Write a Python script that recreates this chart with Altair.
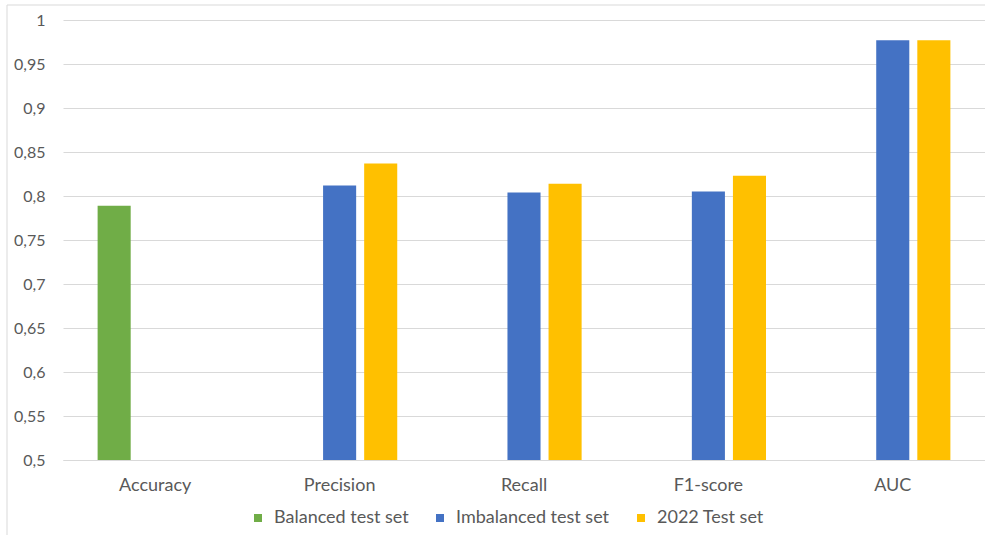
import altair as alt
import pandas as pd

# Scores per metric for each evaluation set (None = not reported)
metrics = ["Accuracy", "Precision", "Recall", "F1-score", "AUC"]
series = ["Balanced test set", "Imbalanced test set", "2022 Test set"]
balanced = [0.789, None, None, None, None]
imbalanced = [None, 0.812, 0.804, 0.805, 0.977]
test_2022 = [None, 0.837, 0.814, 0.823, 0.977]
colors = ["#70AD47", "#4472C4", "#FFC000"]
y_ticks = [0.5, 0.55, 0.6, 0.65, 0.7, 0.75, 0.8, 0.85, 0.9, 0.95, 1.0]

rows = []
for name, vals in zip(series, [balanced, imbalanced, test_2022]):
    for m, v in zip(metrics, vals):
        if v is not None:
            rows.append({"metric": m, "set": name, "score": v})
df = pd.DataFrame(rows)

FONT = "Lato"
LABEL_COLOR = "#595959"
GRID = "#D9D9D9"

bars = alt.Chart(df).mark_bar().encode(
    x=alt.X(
        "metric:N",
        sort=metrics,
        scale=alt.Scale(paddingInner=0.3315, paddingOuter=0.166),
        axis=alt.Axis(
            title=None, labelAngle=0, ticks=False, domain=True,
            domainColor=GRID, labelPadding=16, labelFontSize=18,
            labelColor=LABEL_COLOR, labelFont=FONT, grid=False,
        ),
    ),
    xOffset=alt.XOffset(
        "set:N",
        sort=series,
        scale=alt.Scale(domain=series, paddingInner=0.195, paddingOuter=0.0975),
    ),
    y=alt.Y(
        "score:Q",
        scale=alt.Scale(domain=[0.5, 1.0], zero=False, nice=False),
        axis=alt.Axis(
            title=None, values=y_ticks, ticks=False, domain=False,
            grid=True, gridColor=GRID, gridWidth=1,
            labelPadding=18, labelFontSize=16, labelColor=LABEL_COLOR,
            labelFont=FONT,
            labelExpr="replace(format(datum.value, '~g'), '.', ',')",
        ),
    ),
    y2=alt.datum(0.5),
    color=alt.Color(
        "set:N",
        sort=series,
        scale=alt.Scale(domain=series, range=colors),
        legend=alt.Legend(
            title=None, orient="none", direction="horizontal",
            legendX=186, legendY=489, symbolType="square", symbolSize=64,
            symbolStrokeWidth=0, labelFontSize=18, labelFont=FONT,
            labelColor=LABEL_COLOR, labelOffset=7, columnPadding=22,
        ),
    ),
)

# Light outline around the chart area
frame = alt.Chart(alt.Data(values=[{}])).mark_rect(
    filled=False, stroke=GRID, strokeWidth=1
).encode(
    x=alt.value(-56), x2=alt.value(960), y=alt.value(-15), y2=alt.value(560)
)

chart = alt.layer(frame, bars).properties(
    width=922,
    height=440,
    padding={"left": 63, "top": 20, "right": 0, "bottom": 75},
    autosize=alt.AutoSizeParams(type="none"),
    background="white",
).configure_view(stroke=None)

chart.save("out.html", embed_options={"renderer": "svg", "actions": False})
